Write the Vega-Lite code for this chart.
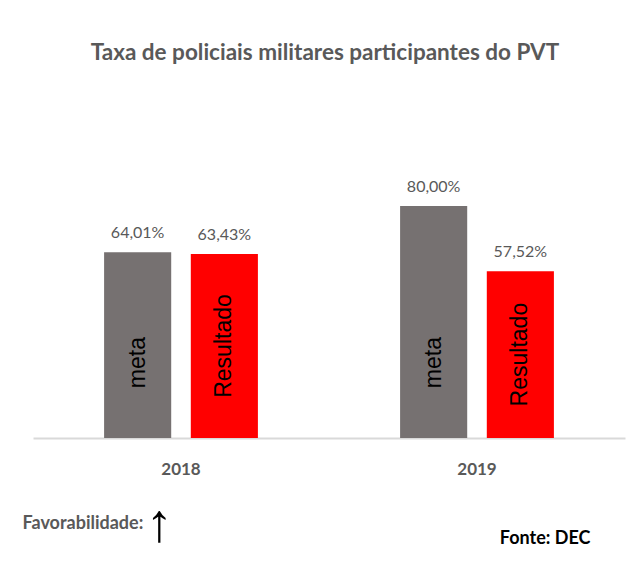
{
  "$schema": "https://vega.github.io/schema/vega-lite/v6.json",
  "width": 592,
  "height": 290,
  "autosize": {"type": "none"},
  "padding": {"left": 33, "top": 148, "right": 18, "bottom": 126},
  "background": "white",
  "config": {
    "view": {"stroke": null},
    "locale": {"number": {"decimal": ",", "thousands": ".", "grouping": [3], "currency": ["R$", ""]}}
  },
  "title": {
    "text": "Taxa de policiais militares participantes do PVT",
    "font": "Lato",
    "fontSize": 22.5,
    "fontWeight": "bold",
    "color": "#595959",
    "anchor": "middle",
    "frame": "group",
    "offset": 84,
    "dx": -4
  },
  "data": {
    "values": [
      {"ano": "2018", "serie": "meta", "valor": 0.6401},
      {"ano": "2018", "serie": "Resultado", "valor": 0.6343},
      {"ano": "2019", "serie": "meta", "valor": 0.80},
      {"ano": "2019", "serie": "Resultado", "valor": 0.5752}
    ]
  },
  "resolve": {"axis": {"y": "independent"}},
  "layer": [
    {
      "mark": {"type": "bar"},
      "encoding": {
        "x": {
          "field": "ano", "type": "nominal",
          "scale": {"paddingInner": 0, "paddingOuter": 0},
          "axis": {
            "labelAngle": 0, "ticks": false,
            "domainColor": "#d9d9d9", "domainWidth": 2,
            "labelFont": "Lato",
            "labelFontSize": 17, "labelFontWeight": "bold", "labelColor": "#595959",
            "labelPadding": 23,
            "title": "Favorabilidade:",
            "titleFont": "Lato",
            "titleFontSize": 18, "titleFontWeight": "bold", "titleColor": "#595959",
            "titleAnchor": "start", "titleAlign": "left", "titleBaseline": "middle",
            "titleX": -11, "titleY": 85
          }
        },
        "xOffset": {
          "field": "serie", "type": "nominal",
          "sort": ["meta", "Resultado"],
          "scale": {"paddingInner": 0.226, "paddingOuter": 0.82}
        },
        "y": {
          "field": "valor", "type": "quantitative",
          "scale": {"domain": [0, 1]},
          "axis": {
            "orient": "left",
            "labels": false, "ticks": false, "domain": false, "grid": false,
            "title": "↑",
            "titleAngle": 0,
            "titleFont": "Liberation Sans, Arial, sans-serif",
            "titleFontSize": 54, "titleFontWeight": "bold", "titleColor": "#000000",
            "titleAlign": "center", "titleBaseline": "middle",
            "titleX": 126, "titleY": 376
          }
        },
        "color": {
          "field": "serie", "type": "nominal",
          "scale": {"domain": ["meta", "Resultado"], "range": ["#767171", "#ff0000"]},
          "legend": null
        }
      }
    },
    {
      "mark": {
        "type": "text",
        "font": "Lato",
        "fontSize": 16, "color": "#595959",
        "baseline": "alphabetic", "dy": -14
      },
      "encoding": {
        "x": {"field": "ano", "type": "nominal"},
        "xOffset": {"field": "serie", "type": "nominal", "sort": ["meta", "Resultado"]},
        "y": {"field": "valor", "type": "quantitative", "axis": null},
        "text": {"field": "valor", "type": "quantitative", "format": ".2%"}
      }
    },
    {
      "transform": [
        {"calculate": "datum.serie === 'meta' ? 0.26 : datum.valor / 2", "as": "meio"}
      ],
      "mark": {
        "type": "text",
        "font": "Liberation Sans, Arial, sans-serif",
        "fontSize": 23, "color": "#000000",
        "angle": 270, "align": "center", "baseline": "middle"
      },
      "encoding": {
        "x": {"field": "ano", "type": "nominal"},
        "xOffset": {"field": "serie", "type": "nominal", "sort": ["meta", "Resultado"]},
        "y": {
          "field": "meio", "type": "quantitative",
          "axis": {
            "orient": "right",
            "labels": false, "ticks": false, "domain": false, "grid": false,
            "title": "Fonte: DEC",
            "titleAngle": 0,
            "titleFont": "Lato",
            "titleFontSize": 18, "titleFontWeight": "bold", "titleColor": "#000000",
            "titleAlign": "right", "titleBaseline": "middle",
            "titleX": -35, "titleY": 390
          }
        },
        "text": {"field": "serie", "type": "nominal"}
      }
    }
  ]
}
